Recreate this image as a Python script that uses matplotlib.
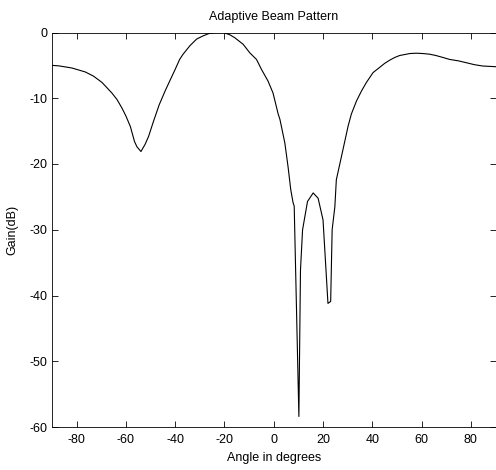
import matplotlib
matplotlib.use("Agg")
import matplotlib.pyplot as plt

angles = [-90, -87.3, -81.9, -76.5, -73.1, -69.7, -67.7, -65.7, -63.6, -61.6,
          -60.0, -58.2, -56.5, -55.5, -53.9, -52.2, -50.8, -48.8, -46.5, -44.1,
          -42.0, -40.0, -38.2, -36.8, -34.0, -31.3, -28.6, -25.9, -23.2, -20.5,
          -17.8, -15.8, -12.4, -9.7, -7.0, -5.0, -2.3, -0.3, 1.8,
          2.5, 4.5, 5.8, 6.9, 7.85, 8.3, 10.2, 10.85, 11.7, 13.7,
          16.0, 18.0, 20.0, 22.0, 23.1, 23.7, 24.8, 25.4, 28.1, 30.2,
          31.5, 33.6, 35.6, 37.6, 40.3, 43.0, 45.0, 47.1, 49.1, 51.1,
          55.2, 57.9, 60.6, 63.3, 65.8, 68.7, 71.4, 74.8, 78.2, 81.5,
          84.9, 90]
gains = [-5.0, -5.07, -5.4, -6.0, -6.65, -7.6, -8.4, -9.2, -10.2, -11.5,
         -12.7, -14.3, -16.6, -17.4, -18.1, -17.0, -15.8, -13.5, -11.0, -8.9,
         -7.2, -5.6, -4.1, -3.3, -2.0, -1.0, -0.5, -0.1, 0.0, 0.0,
         -0.35, -0.8, -1.8, -3.1, -4.1, -5.6, -7.4, -9.2, -12.4,
         -13.2, -16.8, -20.4, -23.9, -25.9, -26.4, -58.4, -36.1, -30.0, -25.7,
         -24.4, -25.2, -28.5, -41.2, -40.9, -30.0, -26.5, -22.4, -17.8, -14.2,
         -12.4, -10.4, -8.9, -7.6, -6.1, -5.3, -4.7, -4.2, -3.8, -3.5,
         -3.2, -3.15, -3.2, -3.3, -3.5, -3.8, -4.1, -4.3, -4.6, -4.9,
         -5.1, -5.2]

xticks = [-80, -60, -40, -20, 0, 20, 40, 60, 80]
yticks = [0, -10, -20, -30, -40, -50, -60]

plt.rcParams['font.family'] = ['Liberation Sans', 'DejaVu Sans']
plt.rcParams['axes.unicode_minus'] = False

fig = plt.figure(figsize=(4.96, 4.70), dpi=100)
ax = fig.add_axes([52/496, 43/470, (495.5-52)/496, (427.5-33)/470])
ax.plot(angles, gains, color='black', linewidth=0.8)
ax.set_xlim(-90, 90)
ax.set_ylim(-60, 0)
ax.set_xticks(xticks)
ax.set_yticks(yticks)
ax.tick_params(direction='in', top=True, right=True, length=4, width=0.6,
               labelsize=9)
ax.tick_params(axis='x', pad=5)
ax.tick_params(axis='y', pad=3)
for s in ax.spines.values():
    s.set_linewidth(0.6)
ax.set_title('Adaptive Beam Pattern', fontsize=9, pad=9)
ax.set_xlabel('Angle in degrees', fontsize=9, labelpad=4)
ax.set_ylabel('Gain(dB)', fontsize=9, labelpad=8)
fig.savefig('out.png', dpi=100)
